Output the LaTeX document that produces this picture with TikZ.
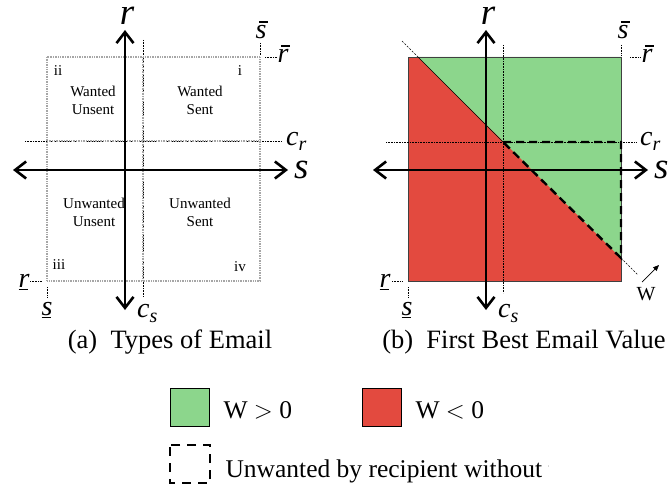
\documentclass[tikz,border=0pt]{standalone}
\usepackage{fontspec}
\setmainfont{Liberation Serif}
\usepackage{tikz}
\usetikzlibrary{arrows.meta,positioning}
\definecolor{mygreen}{RGB}{140,214,140}
\definecolor{myred}{RGB}{227,74,63}

% label sizes
\newcommand{\biglab}[1]{\fontsize{37}{37}\selectfont\itshape #1}
\newcommand{\midlab}{\fontsize{28}{28}\selectfont\itshape}
\newcommand{\barlab}[1]{{\midlab\setbox0\hbox{#1}%
  \rlap{\hskip0.12em\raisebox{0.58em}{\rule{\dimexpr\wd0-0.08em\relax}{1.6pt}}}\box0}}
\newcommand{\ullab}[1]{{\midlab\setbox0\hbox{#1}%
  \rlap{\raisebox{-0.12em}{\rule{\dimexpr\wd0-0.04em\relax}{1.6pt}}}\box0}}
\newcommand{\sublab}[2]{{\midlab #1\raisebox{-5pt}{\fontsize{20}{20}\selectfont #2}}}

\begin{document}
\begin{tikzpicture}[
  x=1pt, y=-1pt,
  myaxis/.style={line width=2.6pt, {Straight Barb[length=11pt,width=17pt]}-{Straight Barb[length=11pt,width=17pt]}},
  axislab/.style={inner sep=0pt, text height=18pt, text depth=0pt},
  mygrid/.style={draw=gray!70, line width=1.8pt, dash pattern=on 1pt off 0.7pt},
  mydot/.style={line width=0.6pt, densely dotted},
  mydash/.style={line width=2.4pt, dash pattern=on 8pt off 5pt},
  wline/.style={line width=0.6pt, dash pattern=on 2pt off 1.5pt},
  quad/.style={align=center, font=\fontsize{15}{18}\selectfont},
  numeral/.style={font=\fontsize{15}{15}\selectfont},
  caption/.style={anchor=base, font=\fontsize{26.5}{26.5}\selectfont},
  legtext/.style={anchor=base west, font=\fontsize{25.5}{25.5}\selectfont},
  legbox/.style={draw, line width=0.8pt, minimum width=39pt, minimum height=38pt, inner sep=0pt}
]
\useasboundingbox (0,0) rectangle (671,492);

%%% (a) types of email
\coordinate (a-nw) at (47,57);
\coordinate (a-se) at (260,281);
\draw[mydot] (143,40) coordinate (a-cs1) -- (143,297) coordinate (a-cs2);
\draw[mydot] (25,141) coordinate (a-cr1) -- (282,141) coordinate (a-cr2);
\draw[mygrid] (a-nw) rectangle (a-se);
\draw[mygrid] (143,57) -- (143,281);
\draw[mygrid] (47,141) -- (260,141);
% ticks
\draw[mydot] (260,43) -- (260,55);
\draw[mydot] (265,57) -- (277,57);
\draw[mydot] (30,281) -- (42,281);
\draw[mydot] (47,287) -- (47,298);

\foreach \Txt/\Pos [count=\Quad from 1] in {Wanted\\Unsent/{(93,100)}, Wanted\\Sent/{(200,100)}, Unwanted\\Unsent/{(94,212)}, Unwanted\\Sent/{(200,212)}}
  \node[quad] (a-q\Quad) at \Pos {\Txt};
\node[numeral] (a-i)   at (240,71)  {i};
\node[numeral] (a-ii)  at (58,71)   {ii};
\node[numeral] (a-iii) at (59,265)  {iii};
\node[numeral] (a-iv)  at (240,267) {iv};

\coordinate (a-top) at (125,30);
\coordinate (a-bot) at (125,310);
\coordinate (a-left) at (13,170);
\coordinate (a-right) at (288,170);
\draw[myaxis] (a-bot) -- (a-top);
\draw[myaxis] (a-left) -- (a-right);

\node[axislab, anchor=base] (a-r) at (127,25) {\biglab{r}};
\node[axislab, anchor=base west] (a-s) at (294,178) {\biglab{s}};
\node[anchor=base, inner sep=0pt] (a-sbar) at (261,39) {\barlab{s}};
\node[anchor=base, inner sep=0pt] (a-rbar) at (283,63) {\barlab{r}};
\node[anchor=base west, inner sep=0pt] (a-cr) at (286,145) {\sublab{c}{r}};
\node[anchor=base, inner sep=0pt] (a-rmin) at (24,287) {\ullab{r}};
\node[anchor=base, inner sep=0pt] (a-smin) at (47,315) {\ullab{s}};
\node[anchor=base west, inner sep=0pt] (a-cs) at (137,317) {\sublab{c}{s}};
\node[caption] (a-cap) at (170,348) {(a)\ \ Types of Email};

%%% (b) first best email value
\coordinate (b-nw) at (408,57);
\coordinate (b-se) at (621,281);
\coordinate (b-k1) at (418,57);
\coordinate (b-k2) at (621,258);
\coordinate (b-c) at (503,142);
\fill[myred] (b-nw) rectangle (b-se);
\fill[mygreen] (b-k1) -- (621,57) -- (b-k2) -- cycle;
\draw[line width=0.8pt, black!75] (b-nw) rectangle (b-se);
\draw[line width=0.6pt] (b-k1) -- (b-c);
\draw[wline] (402,41) -- (b-k1);
\draw[wline] (b-k2) -- (638,275);
\draw[mydot] (503,45) -- (503,293);
\draw[mydot] (386,142) -- (637,142);
\draw[mydash] (b-c) -- (621,142) -- (b-k2) -- cycle;
% ticks
\draw[mydot] (621,45) -- (621,55);
\draw[mydot] (630,57) -- (640,57);
\draw[mydot] (392,281) -- (402,281);
\draw[mydot] (408,287) -- (408,298);

\coordinate (b-top) at (486,30);
\coordinate (b-bot) at (486,310);
\coordinate (b-left) at (373,170);
\coordinate (b-right) at (648,170);
\draw[myaxis] (b-bot) -- (b-top);
\draw[myaxis] (b-left) -- (b-right);

\node[axislab, anchor=base] (b-r) at (488,25) {\biglab{r}};
\node[axislab, anchor=base west] (b-s) at (654,178) {\biglab{s}};
\node[anchor=base, inner sep=0pt] (b-sbar) at (623,39) {\barlab{s}};
\node[anchor=base, inner sep=0pt] (b-rbar) at (647,63) {\barlab{r}};
\node[anchor=base west, inner sep=0pt] (b-cr) at (640,145) {\sublab{c}{r}};
\node[anchor=base, inner sep=0pt] (b-rmin) at (385,287) {\ullab{r}};
\node[anchor=base, inner sep=0pt] (b-smin) at (407,315) {\ullab{s}};
\node[anchor=base west, inner sep=0pt] (b-cs) at (498,317) {\sublab{c}{s}};
\node[anchor=base, inner sep=0pt, font=\fontsize{20}{20}\selectfont] (b-w) at (646,300) {W};
\coordinate (b-w1) at (642,282);
\coordinate (b-w2) at (659,265);
\draw[line width=0.7pt, -{Triangle[length=6pt,width=5pt]}] (b-w1) -- (b-w2);
\node[caption] (b-cap) at (524,348) {(b)\ \ First Best Email Value};

%%% legend
\node[legbox, fill=mygreen, anchor=north west] (leg-green) at (170,388) {};
\node[legtext] (leg-gt) at (220,418) {W $>$ 0};
\node[legbox, fill=myred, anchor=north west] (leg-red) at (362,388) {};
\node[legtext] (leg-rt) at (412,418) {W $<$ 0};
\coordinate (leg-d1) at (170,445);
\coordinate (leg-d2) at (210,483);
\draw[line width=2.6pt, dash pattern=on 9pt off 7pt, dash phase=-2pt] (leg-d1) rectangle (leg-d2);
\begin{scope}
  \clip (215,440) rectangle (548,492);
  \node[legtext] (leg-dt) at (222,477) {Unwanted by recipient without t};
\end{scope}
\end{tikzpicture}
\end{document}
